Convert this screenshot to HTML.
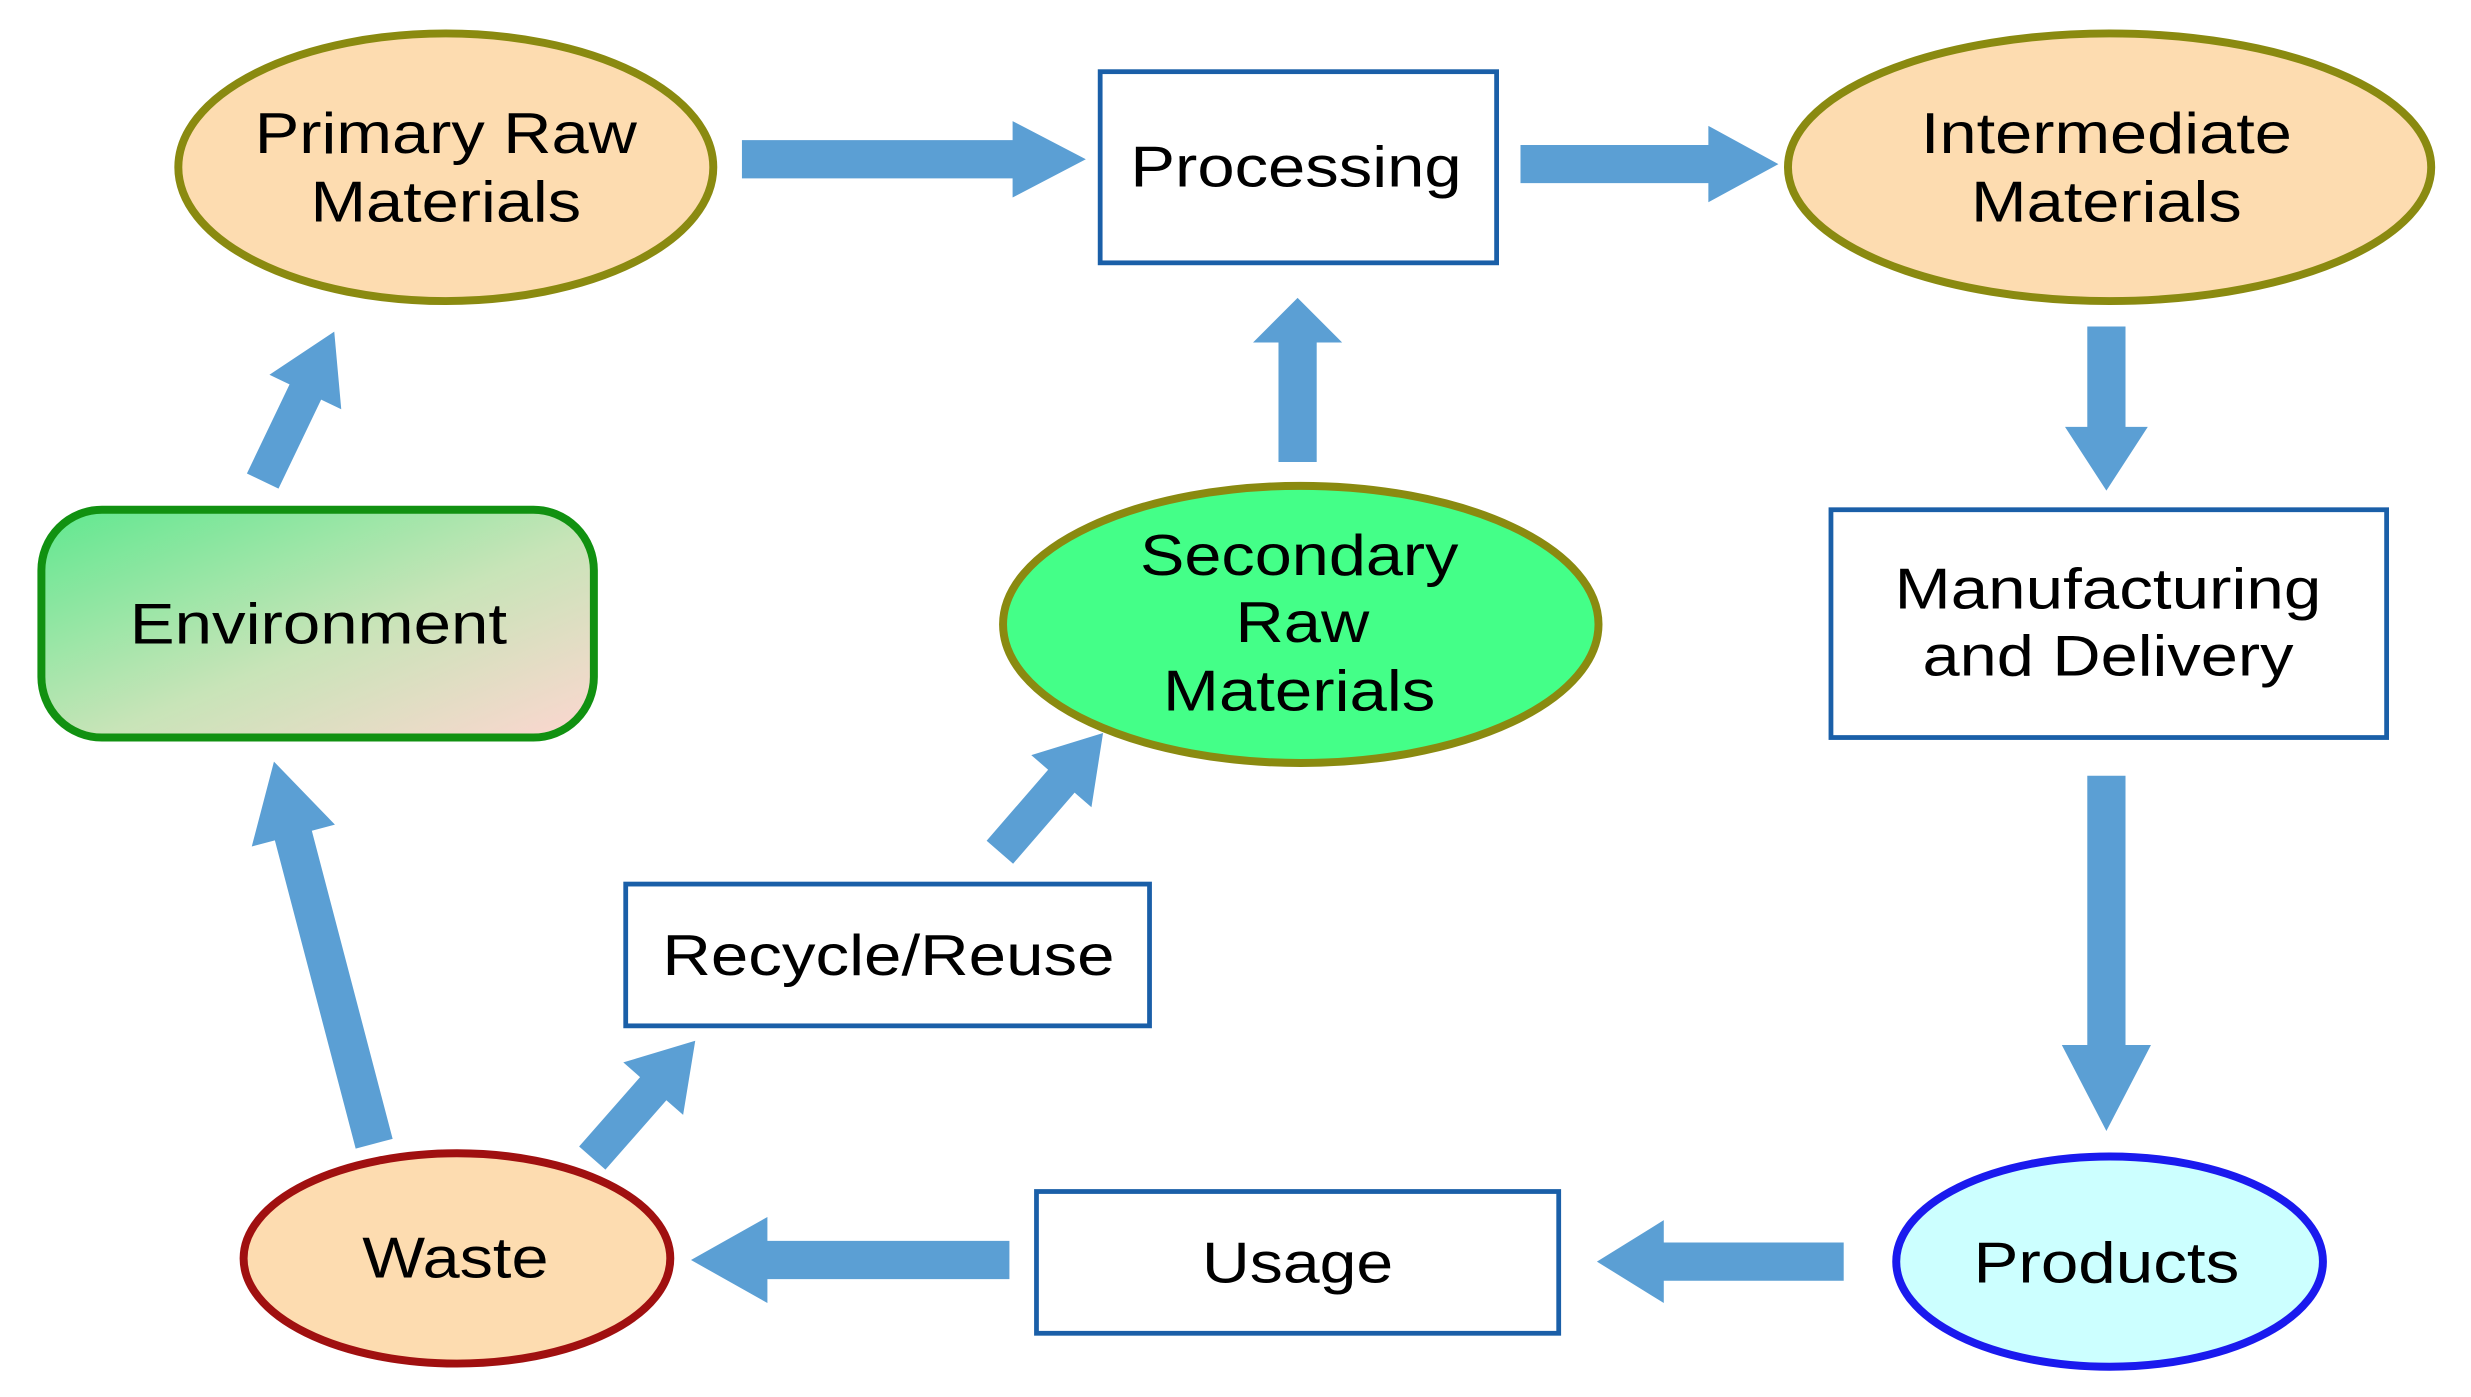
<!DOCTYPE html>
<html><head><meta charset="utf-8"><style>html,body{margin:0;padding:0;background:#fff}svg{display:block}</style></head>
<body>
<svg width="2471" height="1397" viewBox="0 0 1552 877" preserveAspectRatio="none" xmlns="http://www.w3.org/2000/svg" font-family="Liberation Sans, sans-serif" font-size="36" text-anchor="middle">
<defs>
<linearGradient id="eg" x1="0" y1="0" x2="1" y2="1">
<stop offset="0" stop-color="#5fe88f"/><stop offset="0.55" stop-color="#c8e4b8"/><stop offset="1" stop-color="#fdd6d0"/>
</linearGradient>
</defs>
<g fill="#5b9fd4">
<polygon points="466,88 636,88 636,76 682,100 636,124 636,112 466,112"/>
<polygon points="955,91 1073,91 1073,79 1117,103 1073,127 1073,115 955,115"/>
<polygon points="1311,205 1335,205 1335,268 1349,268 1323,308 1297,268 1311,268"/>
<polygon points="1311,487 1335,487 1335,656 1351,656 1323,710 1295,656 1311,656"/>
<polygon points="1158,780 1158,804 1045,804 1045,818 1003,792 1045,766 1045,780"/>
<polygon points="634,779 634,803 482,803 482,818 434,791 482,764 482,779"/>
<polygon points="803,290 827,290 827,215 843,215 815,187 787,215 803,215"/>
<g transform="translate(235,718) rotate(-104.7)"><polygon points="0,-12 200,-12 200,-27 248,0 200,27 200,12 0,12"/></g>
<g transform="translate(165,302) rotate(-64.4)"><polygon points="0,-11 62,-11 62,-25 104,0 62,25 62,11 0,11"/></g>
<g transform="translate(372,727) rotate(-48.7)"><polygon points="0,-11 58,-11 58,-25 98,0 58,25 58,11 0,11"/></g>
<g transform="translate(628,535) rotate(-49.1)"><polygon points="0,-11 59,-11 59,-25 99,0 59,25 59,11 0,11"/></g>
</g>
<ellipse cx="280" cy="105" rx="168" ry="84" fill="#fddcb0" stroke="#8a8a10" stroke-width="5"/>
<text x="280" y="96" textLength="240" lengthAdjust="spacingAndGlyphs">Primary Raw</text><text x="280" y="139" textLength="170" lengthAdjust="spacingAndGlyphs">Materials</text>
<rect x="691" y="45" width="249" height="120" fill="#fff" stroke="#1a5fa8" stroke-width="3"/>
<text x="814" y="117" textLength="208" lengthAdjust="spacingAndGlyphs">Processing</text>
<ellipse cx="1325" cy="105" rx="202" ry="84" fill="#fddcb0" stroke="#8a8a10" stroke-width="5"/>
<text x="1323" y="96" textLength="233" lengthAdjust="spacingAndGlyphs">Intermediate</text><text x="1323" y="139" textLength="170" lengthAdjust="spacingAndGlyphs">Materials</text>
<rect x="1150" y="320" width="349" height="143" fill="#fff" stroke="#1a5fa8" stroke-width="3"/>
<text x="1324" y="382" textLength="268" lengthAdjust="spacingAndGlyphs">Manufacturing</text><text x="1324" y="424" textLength="233" lengthAdjust="spacingAndGlyphs">and Delivery</text>
<ellipse cx="1325" cy="792" rx="134" ry="66" fill="#ccffff" stroke="#1a1aee" stroke-width="5"/>
<text x="1323" y="805" textLength="167" lengthAdjust="spacingAndGlyphs">Products</text>
<rect x="651" y="748" width="328" height="89" fill="#fff" stroke="#1a5fa8" stroke-width="3"/>
<text x="815" y="805" textLength="120" lengthAdjust="spacingAndGlyphs">Usage</text>
<ellipse cx="287" cy="790" rx="134" ry="66" fill="#fddcb0" stroke="#a01010" stroke-width="5"/>
<text x="286" y="802" textLength="117" lengthAdjust="spacingAndGlyphs">Waste</text>
<rect x="393" y="555" width="329" height="89" fill="#fff" stroke="#1a5fa8" stroke-width="3"/>
<text x="558" y="612" textLength="284" lengthAdjust="spacingAndGlyphs">Recycle/Reuse</text>
<ellipse cx="817" cy="392" rx="187" ry="87" fill="#44ff88" stroke="#8a8a10" stroke-width="5"/>
<text x="816" y="361" textLength="200" lengthAdjust="spacingAndGlyphs">Secondary</text><text x="818" y="403" textLength="84" lengthAdjust="spacingAndGlyphs">Raw</text><text x="816" y="446" textLength="171" lengthAdjust="spacingAndGlyphs">Materials</text>
<rect x="26" y="320" width="347" height="143" rx="38" fill="url(#eg)" stroke="#119111" stroke-width="5"/>
<text x="200" y="404" textLength="237" lengthAdjust="spacingAndGlyphs">Environment</text>
</svg>
</body></html>
